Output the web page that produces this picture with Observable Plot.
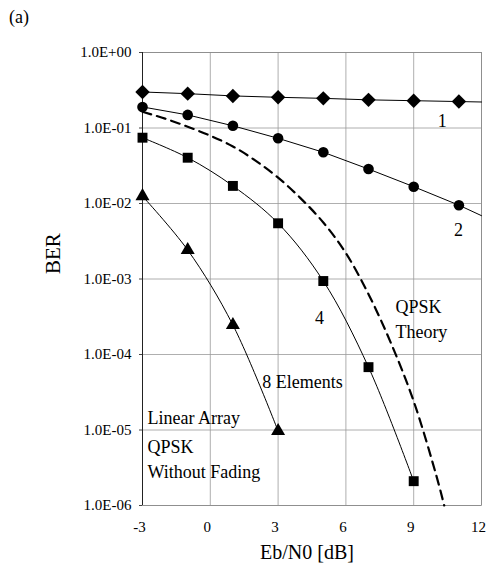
<!DOCTYPE html>
<html><head><meta charset="utf-8">
<script src="https://cdn.jsdelivr.net/npm/d3@7"></script>
<script src="https://cdn.jsdelivr.net/npm/@observablehq/plot@0.6"></script>
<style>
body{margin:0;background:#fff}
#wrap{position:relative;width:486px;height:569px}
#tag{position:absolute;left:9px;top:7px;font:18px "Liberation Serif",serif;color:#000}
svg text{font-family:"Liberation Serif","Times New Roman",serif}
</style>
</head><body><div id="wrap"><div id="tag">(a)</div></div>
<script>
// x ticks and y ticks
const xTicks = [-3, 0, 3, 6, 9, 12];
const xTickLabels = ["-3", "0", "3", "6", "9", "12"];
const yTicks = [1, 1e-1, 1e-2, 1e-3, 1e-4, 1e-5, 1e-6];
const yTickLabels = ["1.0E+00", "1.0E-01", "1.0E-02", "1.0E-03", "1.0E-04", "1.0E-05", "1.0E-06"];

// 1 element (diamonds)
const db1 = [-3, -1, 1, 3, 5, 7, 9, 11];
const ber1 = [0.30, 0.285, 0.266, 0.255, 0.247, 0.236, 0.23, 0.224];
const db1Line = [-3, -1, 1, 3, 5, 7, 9, 11, 12];
const ber1Line = [0.30, 0.285, 0.266, 0.255, 0.247, 0.236, 0.23, 0.224, 0.221];

// 2 elements (circles)
const db2 = [-3, -1, 1, 3, 5, 7, 9, 11];
const ber2 = [0.19, 0.149, 0.107, 0.073, 0.0477, 0.0286, 0.0167, 0.0095];
const db2Line = [-3, -1, 1, 3, 5, 7, 9, 11, 12];
const ber2Line = [0.19, 0.149, 0.107, 0.073, 0.0477, 0.0286, 0.0167, 0.0095, 0.0069];

// 4 elements (squares)
const db4 = [-3, -1, 1, 3, 5, 7, 9];
const ber4 = [0.0744, 0.0404, 0.0171, 0.00547, 9.4e-4, 6.8e-5, 2.1e-6];

// 8 elements (triangles)
const db8 = [-3, -1, 1, 3];
const ber8 = [0.0125, 0.00242, 2.46e-4, 9.7e-6];

// QPSK theory (dashed)
const dbTh = [-3, -2, -1, 0, 1, 2, 3, 4, 5, 6, 7, 8, 9, 10, 10.35];
const berTh = [0.164, 0.133, 0.104, 0.079, 0.057, 0.037, 0.022, 0.0117, 0.0056, 0.0022, 6.3e-4, 1.4e-4, 2.4e-5, 2.5e-6, 1e-6];

// annotations (centred)
const midText = ["1", "2", "4", "8 Elements"];
const midX = [10.26, 10.98, 4.83, 4.08];
const midY = [0.124, 0.00436, 3.04e-4, 4.32e-5];
// annotations (left aligned)
const leftText = ["QPSK", "Theory", "Linear Array", "QPSK", "Without Fading"];
const leftX = [8.19, 8.19, -2.78, -2.78, -2.78];
const leftY = [4.26e-4, 1.99e-4, 1.44e-5, 5.96e-6, 2.78e-6];

const zip = (xs, ys) => xs.map((x, i) => ({x, y: ys[i]}));
const s1 = zip(db1, ber1), l1 = zip(db1Line, ber1Line);
const s2 = zip(db2, ber2), l2 = zip(db2Line, ber2Line);
const s4 = zip(db4, ber4), s8 = zip(db8, ber8), th = zip(dbTh, berTh);
const midNotes = midText.map((t, i) => ({t, x: midX[i], y: midY[i]}));
const leftNotes = leftText.map((t, i) => ({t, x: leftX[i], y: leftY[i]}));
const yLabelFor = new Map(yTicks.map((t, i) => [t, yTickLabels[i]]));
const xLabelFor = new Map(xTicks.map((t, i) => [t, xTickLabels[i]]));
const serif = '"Liberation Serif", "Times New Roman", serif';

const chart = Plot.plot({
  width: 486, height: 569,
  marginTop: 52, marginBottom: 64, marginLeft: 142, marginRight: 5,
  style: {fontFamily: serif, fontSize: "15px", background: "white", color: "black"},
  x: {domain: [-3, 12], label: null},
  y: {type: "log", domain: [1e-6, 1], label: null},
  marks: [
    Plot.gridX(xTicks, {stroke: "#9a9a9a", strokeOpacity: 1, strokeWidth: 0.8}),
    Plot.gridY(yTicks, {stroke: "#9a9a9a", strokeOpacity: 1, strokeWidth: 0.8}),
    Plot.frame({stroke: "#888", strokeWidth: 0.8}),
    Plot.ruleX([-3], {stroke: "#222", strokeWidth: 1}),
    Plot.axisX(xTicks, {tickSize: 0, tickPadding: 16, dx: -3, fontSize: 15, fontFamily: serif, tickFormat: d => xLabelFor.get(d), label: null}),
    Plot.axisY(yTicks, {tickSize: 3, tickPadding: 8, fontSize: 15, fontFamily: serif, tickFormat: d => yLabelFor.get(d), label: null, stroke: "#444"}),
    Plot.line(th, {x: "x", y: "y", stroke: "black", strokeWidth: 2.2, strokeDasharray: "9,6", curve: "catmull-rom"}),
    Plot.line(l1, {x: "x", y: "y", stroke: "black", strokeWidth: 1}),
    Plot.line(l2, {x: "x", y: "y", stroke: "black", strokeWidth: 1}),
    Plot.line(s4, {x: "x", y: "y", stroke: "black", strokeWidth: 1, curve: "catmull-rom"}),
    Plot.line(s8, {x: "x", y: "y", stroke: "black", strokeWidth: 1, curve: "catmull-rom"}),
    Plot.dot(s1, {x: "x", y: "y", symbol: "diamond2", r: 6.5, fill: "black", stroke: "none"}),
    Plot.dot(s2, {x: "x", y: "y", symbol: "circle", r: 5.3, fill: "black", stroke: "none"}),
    Plot.dot(s4, {x: "x", y: "y", symbol: "square", r: 5.6, fill: "black", stroke: "none"}),
    Plot.dot(s8, {x: "x", y: "y", symbol: "triangle", r: 5.2, fill: "black", stroke: "none"}),
    Plot.text(midNotes, {x: "x", y: "y", text: "t", textAnchor: "middle", fontSize: 18, fontFamily: serif, fill: "black"}),
    Plot.text(leftNotes, {x: "x", y: "y", text: "t", textAnchor: "start", fontSize: 18, fontFamily: serif, fill: "black"}),
    Plot.text(["BER"], {frameAnchor: "left", dx: -89, dy: -5, rotate: -90, fontSize: 21, fontFamily: serif, fill: "black"}),
    Plot.text(["Eb/N0 [dB]"], {frameAnchor: "bottom", dx: -5, dy: 53, fontSize: 20, fontFamily: serif, fill: "black"})
  ]
});
document.getElementById("wrap").appendChild(chart);
</script>
</body></html>
